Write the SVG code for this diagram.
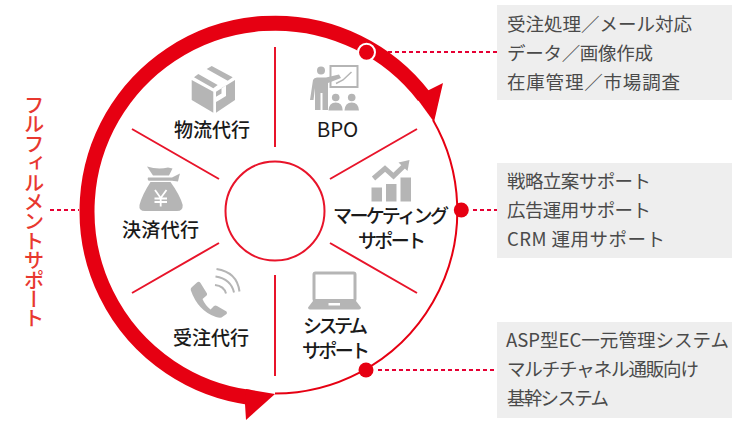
<svg xmlns="http://www.w3.org/2000/svg" width="732" height="426" viewBox="0 0 732 426">
<style>
text{font-family:"Noto Sans CJK JP","Noto Sans",sans-serif}
.lb{font-size:19px;font-weight:500;fill:#1a1a1a}
.nt{font-size:18.500px;font-weight:400;fill:#4a4a4a}
.box{fill:#eeeeee}
.ico{fill:#b5b5b5}
.icl{fill:none;stroke:#b5b5b5}
.sp{stroke:#e8142a;stroke-width:2;fill:none}
.ds{stroke:#e60033;stroke-width:2;stroke-dasharray:4 3;fill:none}
.dot{fill:#e60012}
</style>
<rect width="732" height="426" fill="#fff"/>
<g id="connectors">
<path class="ds" d="M388 52H497"/>
<path class="ds" d="M473 210H497"/>
<path class="ds" d="M378 370H497"/>
<path class="ds" d="M50 210H79"/>
</g>
<g id="ring">
<circle class="sp" cx="275" cy="211" r="49.5"/>
<path d="M433 120A182.5 182.5 0 0 1 275 393.5" fill="none" stroke="#e60012" stroke-width="2"/>
<path d="M250 397.5A188 188 0 1 1 424 96.5" fill="none" stroke="#e60012" stroke-width="15"/>
<path d="M427 91L443 83L434 122L418 100Z" fill="#e60012"/>
<path d="M245 404L246 420L275 394L246 389Z" fill="#e60012"/>
<path class="sp" d="M275 47V147M275 275V376M417 129L330 179M417 293L330 243M132 129L219 179M132 293L219 243"/>
</g>
<g id="n-bpo">
<g class="ico">
<circle cx="321" cy="70.5" r="4"/>
<path d="M310 100L313 80Q314 77.500 317 77.500H326L339 74.500L341 78L328 83V110H322.500V93H320.500V110H315V88L313.500 100Z"/>
<circle cx="335.700" cy="97.500" r="3.800"/><circle cx="351.700" cy="97.500" r="3.800"/>
<path d="M328.500 110.500Q329 102.500 335.700 102.500T342.700 110.500Z"/>
<path d="M344.500 110.500Q345 102.500 351.700 102.500T359 110.500Z"/>
</g>
<rect class="icl" x="330.500" y="66" width="27" height="21" stroke-width="2"/>
<path class="icl" stroke-width="1.500" d="M336 83.500L343 80L351.500 72"/>
<text x="337.500" y="136.500" text-anchor="middle" style="font-size:20.500px;font-weight:400;fill:#1a1a1a">BPO</text>
</g>
<g id="n-marketing">
<g class="ico">
<rect x="371.500" y="187.500" width="10.500" height="14"/>
<rect x="386" y="184" width="10.500" height="17.500"/>
<rect x="400.500" y="177.500" width="10.500" height="24"/>
<path d="M398.500 162.500L409.500 160L407.500 171Z"/>
</g>
<path class="icl" stroke-width="5" d="M373.500 178.500L385 168.500L393.500 176L405 165"/>
<text class="lb" x="333" y="222.500" textLength="116">マーケティング</text>
<text class="lb" x="358" y="247.500" textLength="68">サポート</text>
</g>
<g id="n-system">
<rect class="icl" x="314" y="273" width="41" height="27.500" rx="1.500" stroke-width="3"/>
<path class="ico" d="M313 301H356L361 307.500Q361 309.500 359 309.500H310Q308 309.500 308 307.500ZM328.500 303V305.500H340V303Z" fill-rule="evenodd"/>
<text class="lb" x="303" y="333" textLength="65">システム</text>
<text class="lb" x="302" y="358" textLength="68">サポート</text>
</g>
<g id="n-order">
<path class="ico" d="M190.700 290Q190.500 288 192 287L197 282.500Q199 281 200.500 283L207 293.500Q207.500 295 206 296L202.500 299Q205 305 210.500 309.500L214 306Q215.500 305 217 306L226.500 311.500Q227.500 313 226.500 314L221.500 317.500Q219.500 318 216 317Q198 311 190.700 290Z"/>
<path class="icl" stroke-width="2" d="M215 285Q224 286 226 293.500M215.500 276.500Q231 279 234 292.500M216.500 269Q237 272 239.500 291.500"/>
<text class="lb" x="173" y="345" textLength="76">受注代行</text>
</g>
<g id="n-payment">
<path class="ico" d="M147 166.500Q158 170 168 167.500L172.500 168.500L169 175.500H153ZM148 177.500H172L180 173.500L179 177L178 181.500L172 180.700H148.500Q147 179 148 177.500ZM150.500 182H170.500Q180 195 182.700 205Q183 211 177 211H145Q138.500 211 139.500 205Q142 195 150.500 182Z"/>
<path fill="none" stroke="#fff" stroke-width="1.800" d="M155 190L160.700 198L166.500 190M160.700 198V206.500M154.500 198.500H167M154.500 202H167"/>
<text class="lb" x="122" y="237" textLength="77">決済代行</text>
</g>
<g id="n-logistics">
<path class="ico" d="M191.700 80L213.300 91.700V112.700L191.700 100ZM216 91.700L235 80V100L216 112.700V102L219.500 100L226 96V85.500L221.500 88V93.500L216 96.700Z"/>
<path class="ico" d="M194 77.300L198.300 74L217.700 85L213.300 88.300ZM206.700 69L211.700 66L232.700 77.300L227.700 80.700Z"/>
<text class="lb" x="174" y="137" textLength="76">物流代行</text>
</g>
<g id="n-fulfillment">
<text x="34" y="95" style="writing-mode:vertical-rl;font-size:20.500px;letter-spacing:-1.100px;font-weight:500;fill:#e8382f;dominant-baseline:central">フルフィルメントサポート</text>
</g>
<g id="d-bpo">
<rect class="box" x="497" y="5" width="235" height="95"/>
<text class="nt" x="507" y="30.500" textLength="185">受注処理／メール対応</text>
<text class="nt" x="507" y="59.500" textLength="146">データ／画像作成</text>
<text class="nt" x="507" y="88.500" textLength="173">在庫管理／市場調査</text>
</g>
<g id="d-marketing">
<rect class="box" x="497" y="163" width="235" height="95"/>
<text class="nt" x="507" y="187.500" textLength="144">戦略立案サポート</text>
<text class="nt" x="507" y="216.500" textLength="144">広告運用サポート</text>
<text class="nt" x="507" y="245.500" textLength="158">CRM 運用サポート</text>
</g>
<g id="d-system">
<rect class="box" x="497" y="322" width="235" height="96"/>
<text class="nt" x="506" y="346.500" textLength="223">ASP型EC一元管理システム</text>
<text class="nt" x="507" y="375.500" textLength="192">マルチチャネル通販向け</text>
<text class="nt" x="507" y="404.500" textLength="102">基幹システム</text>
</g>
<g id="dots">
<circle cx="366.500" cy="52.300" r="8.500" class="dot" stroke="#fff" stroke-width="2"/>
<circle cx="461.300" cy="210" r="7.500" class="dot"/>
<circle cx="366" cy="370" r="7.500" class="dot"/>
</g>
</svg>
